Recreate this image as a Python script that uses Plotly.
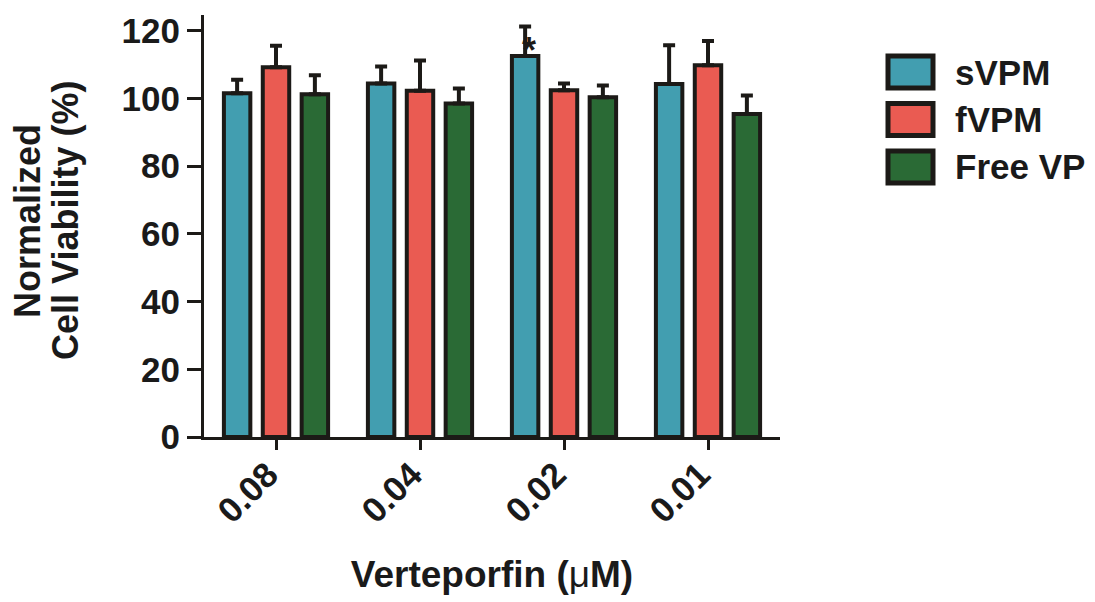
import plotly.graph_objects as go

categories = ["0.08", "0.04", "0.02", "0.01"]
series_names = ["sVPM", "fVPM", "Free VP"]
svpm = [101.5, 104.4, 112.5, 104.2]
svpm_err = [4.0, 5.0, 8.7, 11.5]
fvpm = [109.2, 102.2, 102.4, 109.8]
fvpm_err = [6.3, 9.0, 2.0, 7.1]
freevp = [101.2, 98.5, 100.3, 95.4]
freevp_err = [5.6, 4.4, 3.5, 5.4]
y_ticks = [0, 20, 40, 60, 80, 100, 120]
star_category = "0.02"
star_y = 117.5

colors = ["#429EB0", "#EA5B52", "#2A6A35"]
outline = "#1C1A17"
FONT = "Liberation Sans, Arial, Helvetica, sans-serif"

L, R, T, B = 204, 315, 15, 165
PW, PH = 1095 - L - R, 602 - T - B

def px_x(px):
    return (px - L) / PW

def px_y(py):
    return 1 - (py - T) / PH

fig = go.Figure()
for name, vals, errs, col in zip(series_names, [svpm, fvpm, freevp],
                                 [svpm_err, fvpm_err, freevp_err], colors):
    fig.add_trace(go.Bar(
        x=categories, y=vals, name=name,
        marker=dict(color=col, line=dict(color=outline, width=4)),
        error_y=dict(type="data", array=errs, arrayminus=[0]*len(errs),
                     symmetric=False, color=outline, thickness=4, width=6),
        showlegend=False,
    ))

# asterisk above sVPM at 0.02
fig.add_annotation(x=categories.index(star_category), y=star_y, xref="x", yref="y", text="<b>*</b>",
                   showarrow=False, xshift=-35, yshift=-11,
                   font=dict(family=FONT, size=36, color=outline))

# manual legend
leg_x0, leg_y0, box_w, box_h, step = 888, 56, 45, 32, 47.5
for i, (name, col) in enumerate(zip(series_names, colors)):
    y0 = leg_y0 + i*step
    fig.add_shape(type="rect", xref="paper", yref="paper",
                  x0=px_x(leg_x0), x1=px_x(leg_x0+box_w),
                  y0=px_y(y0+box_h), y1=px_y(y0),
                  fillcolor=col, line=dict(color=outline, width=5))
    fig.add_annotation(xref="paper", yref="paper", x=px_x(leg_x0+box_w+20),
                       y=px_y(y0+box_h/2), text="<b>%s</b>" % name,
                       xanchor="left", yanchor="middle", showarrow=False,
                       font=dict(family=FONT, size=35, color="#1a1a1a"))

# y-axis title (two lines, tight spacing)
for text, cx in [("Normalized", 27), ("Cell Viability (%)", 65)]:
    fig.add_annotation(xref="paper", yref="paper", x=px_x(cx), y=px_y(221),
                       text="<b>%s</b>" % text, textangle=-90, showarrow=False,
                       xanchor="center", yanchor="middle",
                       font=dict(family=FONT, size=36, color="#1a1a1a"))

fig.update_layout(
    barmode="group", bargap=0.19, bargroupgap=0.32,
    width=1095, height=602,
    margin=dict(l=L, r=R, t=T, b=B),
    plot_bgcolor="white", paper_bgcolor="white",
    font=dict(family=FONT, color="#1a1a1a"),
)
fig.update_xaxes(
    showline=True, linecolor=outline, linewidth=3,
    ticks="outside", ticklen=10, tickwidth=3, tickcolor=outline,
    tickangle=-45, tickfont=dict(size=35, family=FONT),
    ticklabelstandoff=-10, ticklabelshift=-8,
    ticktext=["<b>%s</b>" % c for c in categories], tickvals=categories,
    title=dict(text="<b>Verteporfin (</b>μ<b>M)</b>", font=dict(size=37, family=FONT), standoff=33),
    showgrid=False, zeroline=False, range=[-0.5, 3.5],
)
fig.update_yaxes(
    showline=True, linecolor=outline, linewidth=3,
    ticks="outside", ticklen=14, tickwidth=3, tickcolor=outline,
    tickvals=y_ticks, ticktext=["<b>%d</b>" % v for v in y_ticks],
    tickfont=dict(size=35, family=FONT),
    range=[0, 124.6], showgrid=False, zeroline=False,
)

fig.write_html("out.html")
